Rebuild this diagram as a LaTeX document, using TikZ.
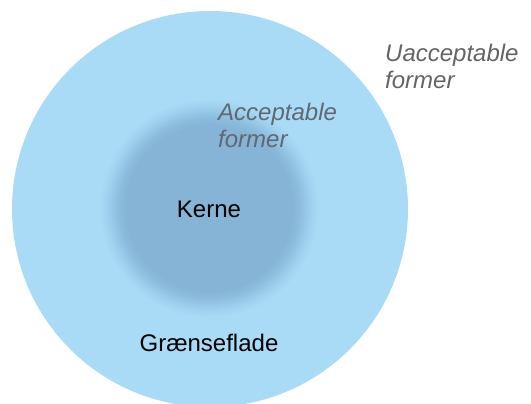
\documentclass[tikz,border=0pt]{standalone}
\usepackage{fontspec}
\setmainfont{Liberation Sans}
\definecolor{outerblue}{RGB}{169,219,247}
\definecolor{innerblue}{RGB}{133,180,214}
\definecolor{labelgray}{RGB}{96,104,114}
\definecolor{outgray}{RGB}{100,100,100}
% path radius corresponds to 25bp
\pgfdeclareradialshading{coreshade}{\pgfpoint{0bp}{0bp}}{%
  color(0bp)=(innerblue);
  color(18.5bp)=(innerblue);
  color(20bp)=(innerblue!82!outerblue);
  color(21.5bp)=(innerblue!52!outerblue);
  color(23bp)=(innerblue!22!outerblue);
  color(24.5bp)=(outerblue);
  color(50bp)=(outerblue)}
\begin{document}
\begin{tikzpicture}[x=1pt,y=1pt,
  lbl/.style={font=\fontsize{24}{27}\selectfont, inner sep=0pt, anchor=base},
  ital/.style={font=\fontsize{24}{27}\selectfont\itshape, inner sep=0pt, anchor=base west}]
\useasboundingbox (0,0) rectangle (531,404);
% outer circle
\fill[outerblue] (210,195) circle (198);
% core with soft edge
\shade[shading=coreshade] (209,196) circle (112);
% labels
\node[lbl] (kerne) at (209,186) {Kerne};
\node[lbl] (graense) at (209,52) {Grænseflade};
\node[ital, text=labelgray] (acc1) at (218,283) {Acceptable};
\node[ital, text=labelgray] (acc2) at (218,256) {former};
\node[ital, text=outgray] (unacc1) at (385,342) {Uacceptable};
\node[ital, text=outgray] (unacc2) at (385,315) {former};
\end{tikzpicture}
\end{document}
